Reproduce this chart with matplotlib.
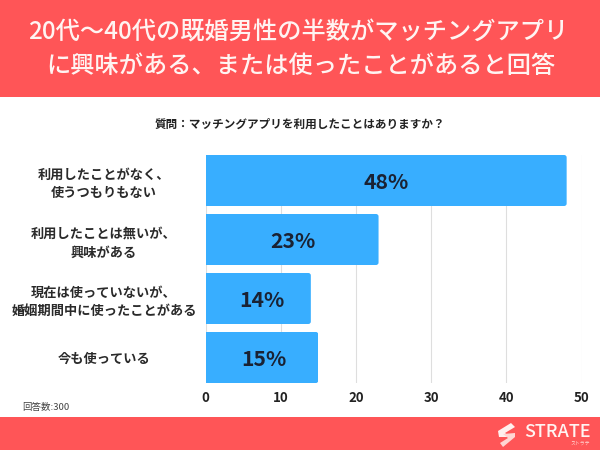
import matplotlib
matplotlib.use("Agg")
import matplotlib.pyplot as plt
from matplotlib.patches import Rectangle, Polygon, FancyBboxPatch

plt.rcParams['font.family'] = ['Noto Sans CJK JP', 'DejaVu Sans']

categories = ["利用したことがなく、\n使うつもりもない", "利用したことは無いが、\n興味がある",
              "現在は使っていないが、\n婚姻期間中に使ったことがある", "今も使っている"]
values = [48, 23, 14, 15]
value_labels = ["48%", "23%", "14%", "15%"]
xticks = [0, 10, 20, 30, 40, 50]
title_lines = ["20代〜40代の既婚男性の半数がマッチングアプリ", "に興味がある、または使ったことがあると回答"]
question = "質問：マッチングアプリを利用したことはありますか？"
note = "回答数:300"

W, H = 600, 450
RED = "#FF5557"
BLUE = "#38AEFF"
DARK = "#1a2233"

fig = plt.figure(figsize=(6, 4.5), dpi=100, facecolor="white")
def fx(x): return x / W
def fy(y): return 1 - y / H

fig.add_artist(Rectangle((0, fy(97)), 1, 97 / H, transform=fig.transFigure, fc=RED, ec="none"))
fig.add_artist(Rectangle((0, 0), 1, 33 / H, transform=fig.transFigure, fc=RED, ec="none"))

fig.text(fx(298), fy(33), title_lines[0], color="#FFF4F2", fontsize=17.45, fontweight="medium", ha="center", va="center")
fig.text(fx(301), fy(66), title_lines[1], color="#FFF4F2", fontsize=17.45, fontweight="medium", ha="center", va="center")
fig.text(fx(299.5), fy(124), question, color="#222222", fontsize=8.35, fontweight="bold", ha="center", va="center")
fig.text(fx(22), fy(407.5), note, color="#444444", fontsize=6.8, ha="left", va="center")

# axes: 0 at x=205.5, 50 at x=581.7; category centres 59 px apart
left, right, top, bottom = 205.5, 581.7, 155, 383
px_x = (right - left) / 50
ax = fig.add_axes([fx(left), fy(bottom), (right - left) / W, (bottom - top) / H])
y = list(range(len(values)))
bars = ax.barh(y, values, height=51 / 59, color=BLUE, linewidth=0, zorder=3)
ax.set_xlim(0, 50)
ax.set_ylim(3 + 25.5 / 59, -25.5 / 59)
ax.set_xticks(xticks)
ax.set_yticks(y)
ax.set_yticklabels(categories, fontsize=9.5, fontweight="bold", color="#2a2a2a", linespacing=1.4, ha="center")
ax.tick_params(axis="y", length=0, pad=73)
ax.tick_params(axis="x", length=0, pad=5.5, labelsize=9.5, labelcolor="#222222")
for t in ax.get_xticklabels():
    t.set_fontweight("bold")
ax.grid(axis="x", color="#DEDEDE", lw=0.8, zorder=0)
ax.set_axisbelow(True)
for s in ax.spines.values():
    s.set_visible(False)

# round the right-hand corners of each bar (radius about 2.5 px)
rad = 2.5 / px_x
for b in bars:
    clip = FancyBboxPatch((-2, b.get_y()), b.get_width() + 2, b.get_height(),
                          boxstyle=f"round,pad=0,rounding_size={rad}",
                          mutation_aspect=px_x / 59, transform=ax.transData)
    b.set_clip_path(clip)

label_pos = [24.0, 11.6, 7.5, 7.8]
for yi, xp, lab in zip(y, label_pos, value_labels):
    ax.text(xp, yi + 2 / 59, lab, ha="center", va="center", fontsize=15.2, fontweight="bold", color=DARK, zorder=4)

# logo
fig.text(fx(524), fy(432), "STRATE", color="#FFF4F2", fontsize=13, fontweight="medium", ha="left", va="center")
fig.text(fx(590), fy(443.5), "ストラテ", color="#FFD9D6", fontsize=3.5, ha="right", va="center")
for pts, col in (([(498, 431), (511, 423), (515, 427), (505, 433), (510, 437), (499, 437)], "#FFF0EE"),
                 ([(515, 437), (503, 447), (500, 443), (508, 438), (503, 434), (515, 433)], "#FFD5D2")):
    fig.add_artist(Polygon([(fx(a), fy(b)) for a, b in pts], transform=fig.transFigure, fc=col, ec="none"))

fig.savefig("out.png", dpi=100, facecolor="white")
